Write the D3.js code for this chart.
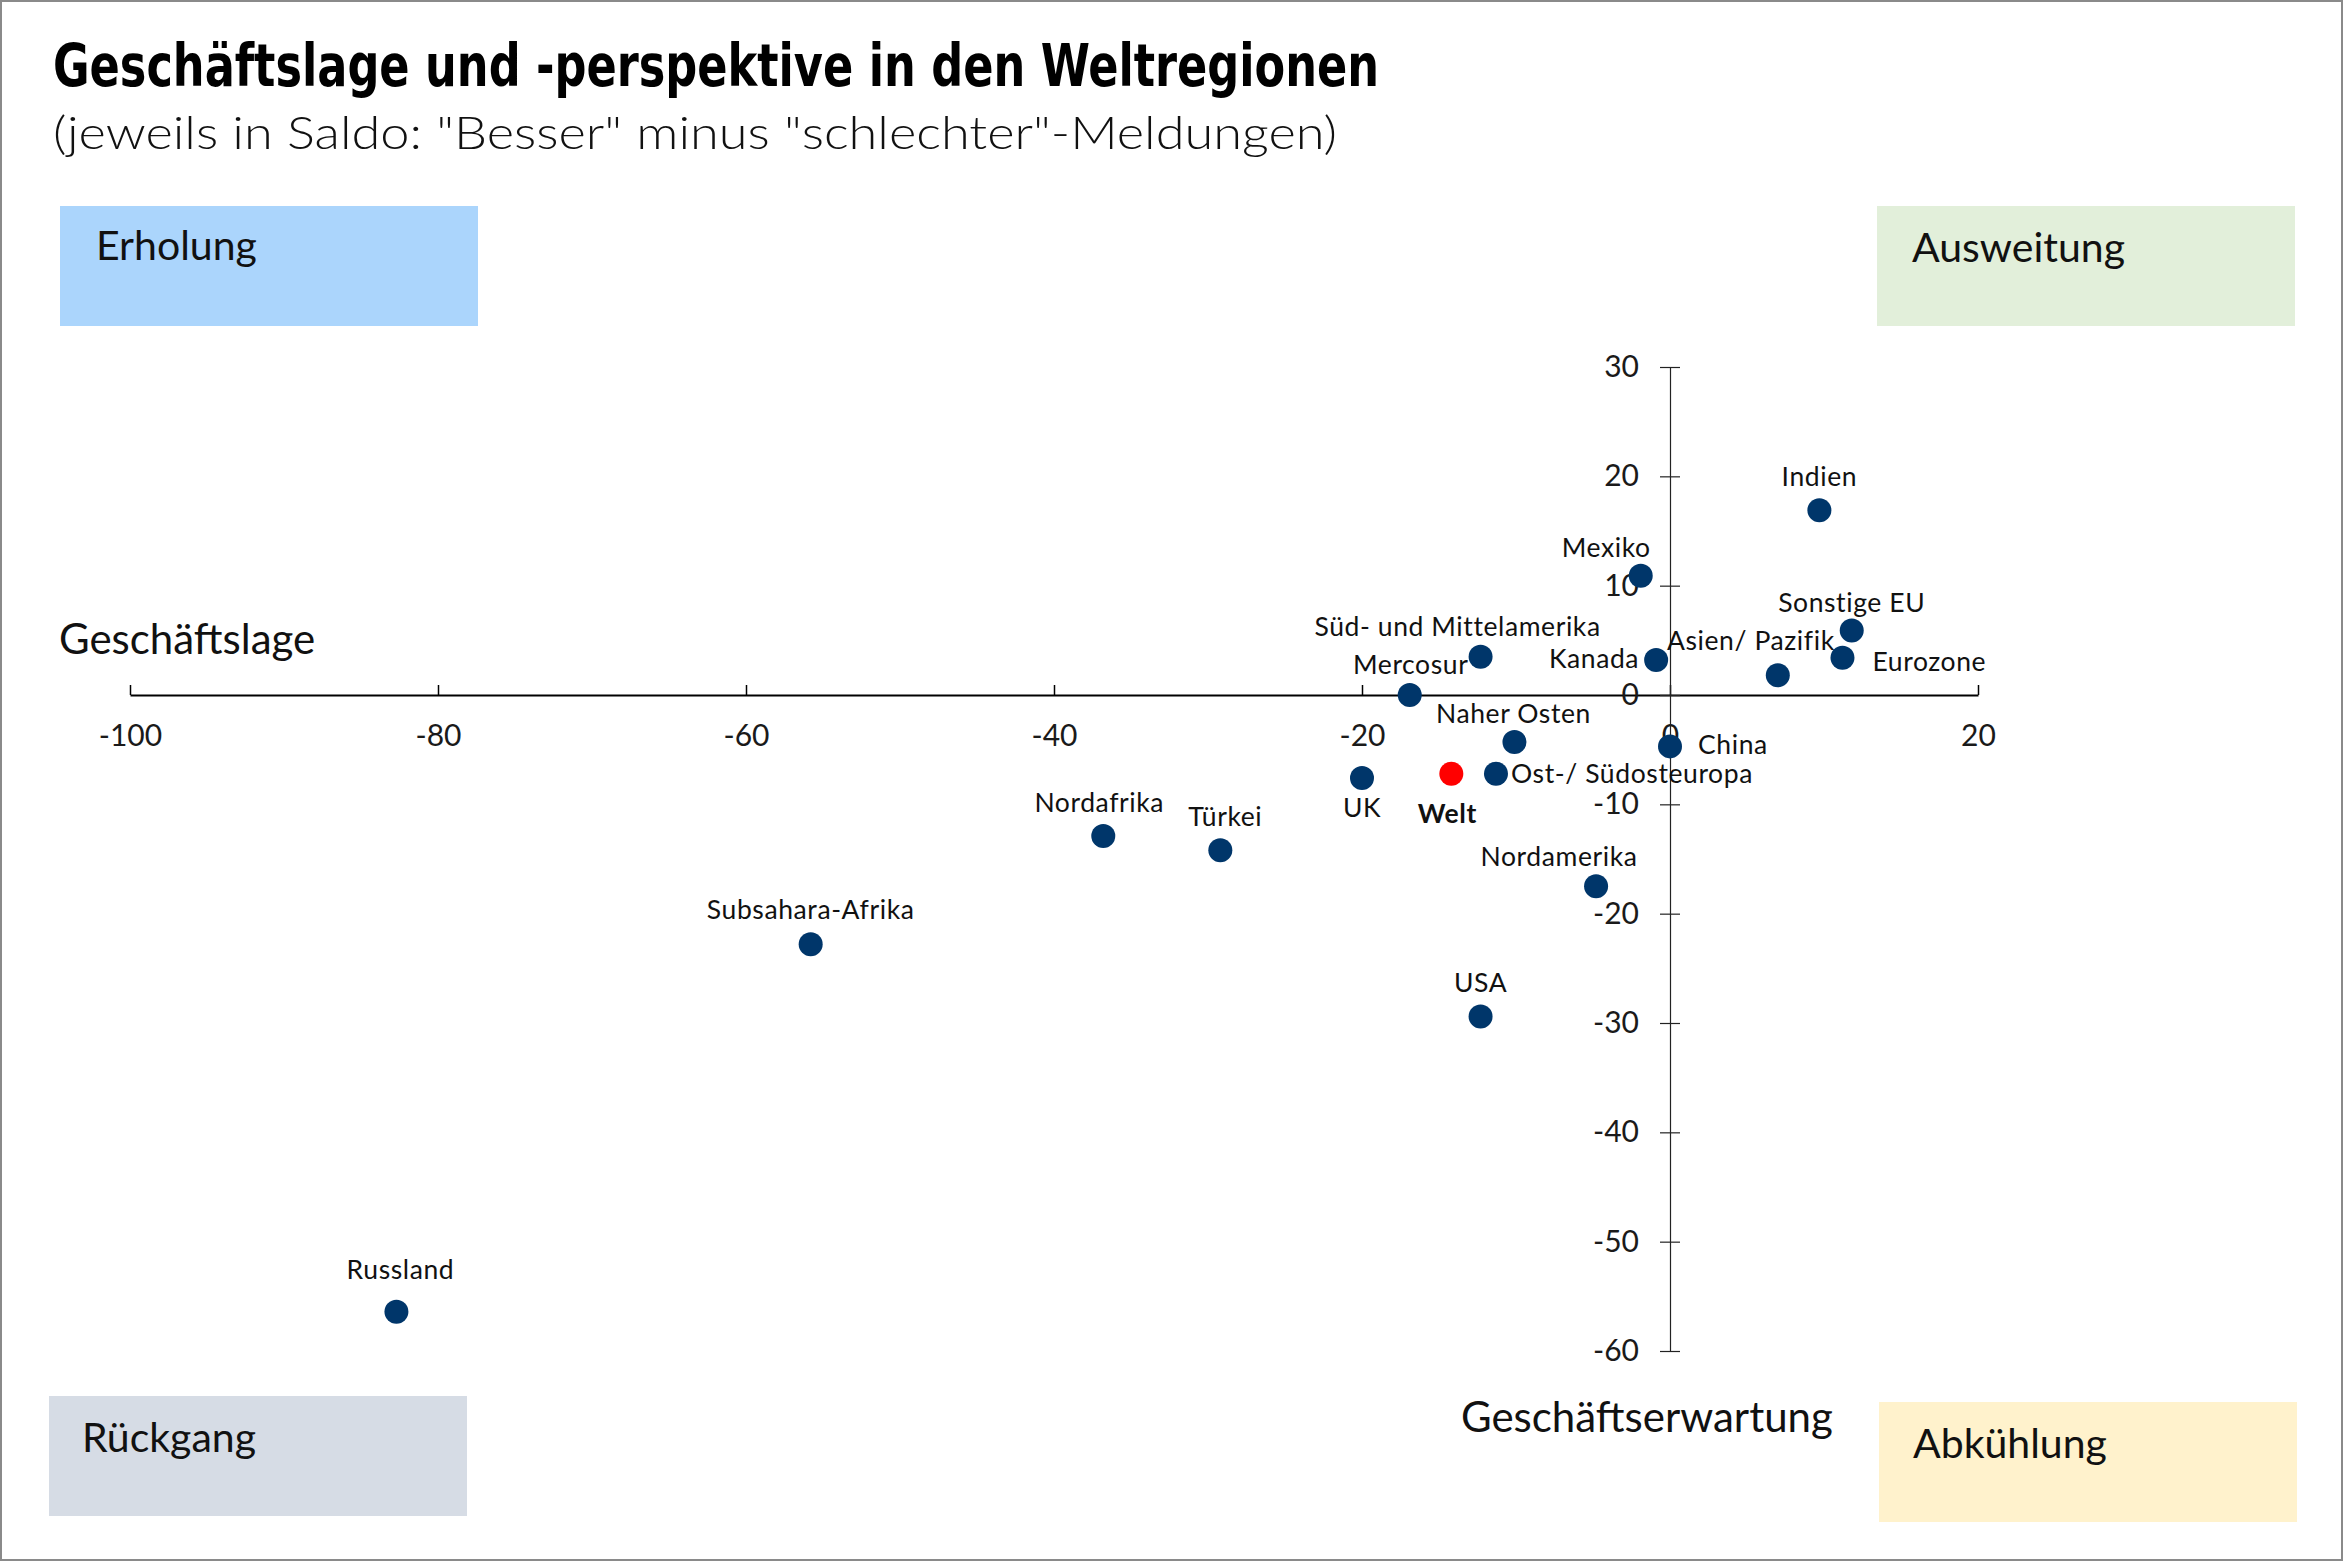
<!DOCTYPE html>
<html>
<head>
<meta charset="utf-8">
<script src="https://cdn.jsdelivr.net/npm/d3@7"></script>
<style>
  body { margin: 0; background: #fff; }
  text { font-family: Lato, "Noto Sans", sans-serif; }
</style>
</head>
<body>
<div id="chart"></div>
<script>
// data
var regions = ["Indien", "Mexiko", "Sonstige EU", "Eurozone", "Asien/ Pazifik", "Kanada",
  "Süd- und Mittelamerika", "Mercosur", "Naher Osten", "China", "Ost-/ Südosteuropa",
  "Welt", "UK", "Nordafrika", "Türkei", "Nordamerika", "Subsahara-Afrika", "USA", "Russland"];
// Geschäftslage (x)
var lage = [9.7, -1.9, 11.8, 11.2, 7.0, -0.9, -12.3, -16.9, -10.1, 0.0, -11.3,
  -14.2, -20.0, -36.8, -29.2, -4.8, -55.8, -12.3, -82.7];
// Geschäftserwartung (y)
var erwartung = [16.9, 10.9, 5.9, 3.4, 1.8, 3.2, 3.5, 0.0, -4.3, -4.7, -7.2,
  -7.2, -7.6, -12.9, -14.2, -17.5, -22.8, -29.4, -56.4];

var xTicks = [-100, -80, -60, -40, -20, 0, 20];
var yTicks = [30, 20, 10, 0, -10, -20, -30, -40, -50, -60];

var quadrants = ["Erholung", "Ausweitung", "Rückgang", "Abkühlung"];
var quadColors = ["#abd5fc", "#e2efda", "#d6dce5", "#fff2cc"];

// label placement (anchor, offset from dot in px)
var labelPos = {
  "Indien": ["middle", 0, -24],
  "Mexiko": ["end", 10, -19],
  "Sonstige EU": ["middle", 0, -18],
  "Eurozone": ["start", 30, 13],
  "Asien/ Pazifik": ["middle", -27, -25],
  "Kanada": ["end", -17, 8],
  "Süd- und Mittelamerika": ["middle", -23, -21],
  "Mercosur": ["middle", 1, -21],
  "Naher Osten": ["middle", -1, -19],
  "China": ["start", 28, 8],
  "Ost-/ Südosteuropa": ["start", 15, 9],
  "Welt": ["middle", -4, 49],
  "UK": ["middle", 0, 39],
  "Nordafrika": ["middle", -4, -24],
  "Türkei": ["middle", 5, -24],
  "Nordamerika": ["middle", -37, -20],
  "Subsahara-Afrika": ["middle", 0, -25],
  "USA": ["middle", 0, -24],
  "Russland": ["middle", 4, -33]
};

var W = 2349, H = 1562;

var svg = d3.select("#chart")
  .append("svg")
    .attr("width", W)
    .attr("height", H);

// frame
svg.append("rect")
  .attr("x", 1).attr("y", 1)
  .attr("width", 2341).attr("height", 1559)
  .attr("fill", "#fff")
  .attr("stroke", "#8a8a8a")
  .attr("stroke-width", 2);

// title (condensed bold)
svg.append("text")
  .attr("x", 53).attr("y", 86)
  .attr("textLength", 1326)
  .attr("lengthAdjust", "spacingAndGlyphs")
  .style("font-family", "'Liberation Sans Narrow', 'DejaVu Sans Condensed', 'DejaVu Sans', sans-serif")
  .style("font-stretch", "condensed")
  .style("font-weight", "bold")
  .style("font-size", "59px")
  .text("Geschäftslage und -perspektive in den Weltregionen");

// subtitle, stretched to the reference width
svg.append("text")
  .attr("x", 53).attr("y", 149)
  .attr("textLength", 1284)
  .attr("lengthAdjust", "spacingAndGlyphs")
  .style("font-size", "45px")
  .style("font-weight", 300)
  .attr("fill", "#111")
  .text("(jeweils in Saldo: \"Besser\" minus \"schlechter\"-Meldungen)");

// quadrant boxes
var boxes = [
  {x: 60, y: 206, tx: 96, ty: 260},
  {x: 1877, y: 206, tx: 1912, ty: 262},
  {x: 49, y: 1396, tx: 82, ty: 1452},
  {x: 1879, y: 1402, tx: 1913, ty: 1458}
];
quadrants.forEach(function(q, i) {
  svg.append("rect")
    .attr("x", boxes[i].x).attr("y", boxes[i].y)
    .attr("width", 418).attr("height", 120)
    .attr("fill", quadColors[i]);
  svg.append("text")
    .attr("x", boxes[i].tx).attr("y", boxes[i].ty)
    .style("font-size", "41px")
    .attr("fill", "#111")
    .text(q);
});

// scales
var x = d3.scaleLinear().domain([-100, 20]).range([130, 1978]);
var y = d3.scaleLinear().domain([-60, 30]).range([1351, 367]);

var fmt = function(d) { return String(d); };

// X axis
var xAxis = svg.append("g")
  .attr("transform", "translate(0," + y(0) + ")")
  .call(d3.axisBottom(x).tickValues(xTicks).tickSizeInner(-10).tickSizeOuter(0).tickPadding(30).tickFormat(fmt));
xAxis.select(".domain").attr("stroke", "#000").attr("stroke-width", 2.2);
xAxis.selectAll(".tick line").attr("stroke", "#000").attr("stroke-width", 1.5);
xAxis.selectAll("text")
  .attr("fill", "#1a1a1a")
  .style("font-size", "30px")
  .style("font-family", "Lato, sans-serif");

// Y axis
var yAxis = svg.append("g")
  .attr("transform", "translate(" + x(0) + ",0)")
  .call(d3.axisLeft(y).tickValues(yTicks).tickSizeInner(10).tickSizeOuter(0).tickPadding(21).tickFormat(fmt));
yAxis.select(".domain").attr("stroke", "#222").attr("stroke-width", 1.2);
yAxis.selectAll(".tick line").attr("x1", -10).attr("x2", 10).attr("stroke", "#222").attr("stroke-width", 1.2);
yAxis.selectAll("text")
  .attr("fill", "#1a1a1a")
  .style("font-size", "30px")
  .style("font-family", "Lato, sans-serif");

// axis titles
svg.append("text")
  .attr("x", 59).attr("y", 654)
  .style("font-size", "42px")
  .attr("fill", "#111")
  .text("Geschäftslage");
svg.append("text")
  .attr("x", 1461).attr("y", 1432)
  .style("font-size", "42px")
  .attr("fill", "#111")
  .text("Geschäftserwartung");

// points
var data = regions.map(function(r, i) { return {name: r, x: lage[i], y: erwartung[i]}; });

svg.append("g").selectAll("circle")
  .data(data)
  .enter()
  .append("circle")
    .attr("cx", function(d) { return x(d.x); })
    .attr("cy", function(d) { return y(d.y); })
    .attr("r", 12)
    .attr("fill", function(d) { return d.name == "Welt" ? "#ff0000" : "#00366a"; });

svg.append("g").selectAll("text")
  .data(data)
  .enter()
  .append("text")
    .attr("x", function(d) { return x(d.x) + labelPos[d.name][1]; })
    .attr("y", function(d) { return y(d.y) + labelPos[d.name][2]; })
    .attr("text-anchor", function(d) { return labelPos[d.name][0]; })
    .style("font-size", "26.5px")
    .style("letter-spacing", "0.6px")
    .style("font-weight", function(d) { return d.name == "Welt" ? "bold" : "normal"; })
    .attr("fill", "#111")
    .text(function(d) { return d.name; });
</script>
</body>
</html>
